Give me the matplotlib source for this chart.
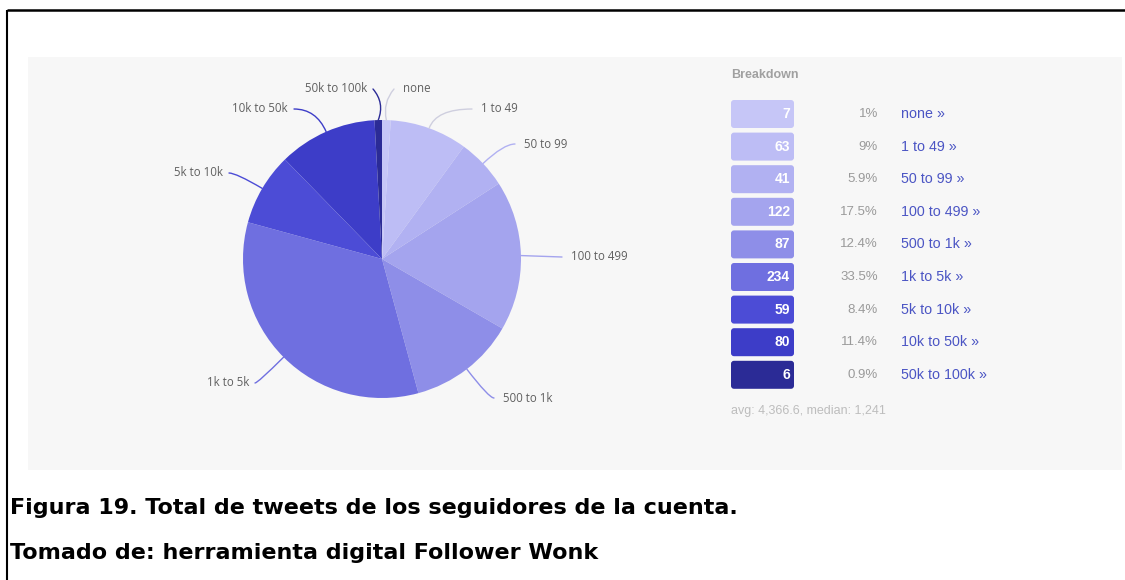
import matplotlib.pyplot as plt
from matplotlib.patches import Rectangle, FancyBboxPatch
import numpy as np

categories = ['none', '1 to 49', '50 to 99', '100 to 499', '500 to 1k',
              '1k to 5k', '5k to 10k', '10k to 50k', '50k to 100k']
counts = [7, 63, 41, 122, 87, 234, 59, 80, 6]
pct_labels = ['1%', '9%', '5.9%', '17.5%', '12.4%', '33.5%', '8.4%', '11.4%', '0.9%']
colors = ['#c6c6f7', '#bdbdf5', '#b1b1f2', '#a4a4ee', '#8e8ee8',
          '#6f6fe0', '#4c4cd6', '#3d3dc8', '#2b2b96']
summary = 'avg: 4,366.6, median: 1,241'
caption = ['Figura 19. Total de tweets de los seguidores de la cuenta.',
           'Tomado de: herramienta digital Follower Wonk']

W, H = 1125, 580


def Y(py):
    # pixel row (from top) -> data y
    return H - py


fig = plt.figure(figsize=(11.25, 5.8), dpi=100)
ax = fig.add_axes([0, 0, 1, 1])

# grey panel
ax.add_patch(Rectangle((28, Y(470)), 1094, 413, fc='#f7f7f7', ec='none'))

# pie
cx, cy, r = 382, Y(259), 139
wedges, _ = ax.pie(counts, colors=colors, startangle=90, counterclock=False,
                   center=(cx, cy), radius=r, wedgeprops=dict(linewidth=0))
ax.set_xlim(0, W)
ax.set_ylim(0, H)
ax.set_aspect('auto')
ax.axis('off')

# pie labels: text position (px) and alignment
label_pos = [(403, 89, 'left'), (481, 109, 'left'), (524, 144, 'left'),
             (571, 257, 'left'), (503, 398, 'left'), (249, 383, 'right'),
             (223, 173, 'right'), (288, 109, 'right'), (367, 89, 'right')]
conn = ['arc3,rad=0.25', None, None, 'arc3,rad=0', None, None, None, None,
        'arc3,rad=-0.3']

for i, w in enumerate(wedges):
    theta = 0.5 * (w.theta1 + w.theta2)
    rim = (cx + r * np.cos(np.radians(theta)), cy + r * np.sin(np.radians(theta)))
    tx, ty, ha = label_pos[i]
    lx = tx - 9 if ha == 'left' else tx + 6
    cs = conn[i] if conn[i] else 'angle3,angleA=0,angleB=%.1f' % theta
    lc = '#cfcfdf' if i < 2 else colors[i]
    ax.annotate('', xy=rim, xytext=(lx, Y(ty)),
                arrowprops=dict(arrowstyle='-', color=lc, lw=1,
                                connectionstyle=cs, shrinkA=0, shrinkB=0))
    ax.text(tx, Y(ty), categories[i], ha=ha, va='center', fontsize=8.3,
            color='#606060', family='Open Sans')

# breakdown table
ax.text(731, Y(75), 'Breakdown', ha='left', va='center', fontsize=9,
        fontweight='bold', color='#a0a0a0', family='Liberation Sans')
for i, cat in enumerate(categories):
    ry = 114 + 32.6 * i
    ax.add_patch(FancyBboxPatch((731, Y(ry) - 14), 63, 28,
                                boxstyle='round,pad=0,rounding_size=3',
                                fc=colors[i], ec='none'))
    ax.text(790, Y(ry), str(counts[i]), ha='right', va='center', fontsize=10,
            fontweight='bold', color='white', family='Liberation Sans')
    ax.text(878, Y(ry), pct_labels[i], ha='right', va='center', fontsize=9.5,
            color='#9a9a9a', family='Liberation Sans')
    ax.text(901, Y(ry), cat + ' \u00bb', ha='left', va='center', fontsize=10.3,
            color='#4b55c4', family='Liberation Sans')
ax.text(731, Y(411), summary, ha='left', va='center', fontsize=9,
        color='#bdbdbd', family='Liberation Sans')

# caption
for k, line in enumerate(caption):
    ax.text(10, Y(508 + 45 * k), line, ha='left', va='center', fontsize=16,
            fontweight='bold', color='black', family='DejaVu Sans')

# page border
ax.plot([7, W], [Y(10), Y(10)], color='black', lw=1.8, solid_capstyle='butt')
ax.plot([7, 7], [Y(10), 0], color='black', lw=1.5, solid_capstyle='butt')

fig.savefig('out.png', dpi=100)
